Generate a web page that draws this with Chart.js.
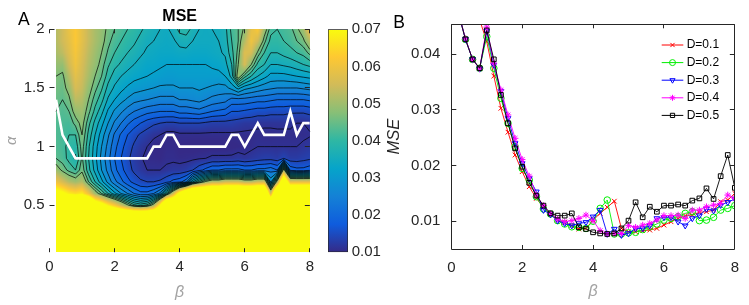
<!DOCTYPE html>
<html>
<head>
<meta charset="utf-8">
<script src="https://cdn.jsdelivr.net/npm/chart.js@4.4.1/dist/chart.umd.min.js"></script>
<style>
  html, body { margin:0; padding:0; background:#fff; }
  #wrap { position:relative; width:749px; height:305px; overflow:hidden; background:#fff; }
  #wrap canvas { position:absolute; top:0; }
</style>
</head>
<body>
<div id="wrap">
  <canvas id="cA" width="320" height="305" style="left:0"></canvas>
  <canvas id="cB" width="369" height="305" style="left:380px"></canvas>
  <canvas id="cCB" width="70" height="305" style="left:320px"></canvas>
</div>
<script>
// ---------------- DATA ----------------
// Panel A: MSE map over (beta, alpha). Values in units of 1e-3.
const betaGrid = [0.2,0.4,0.6,0.8,1.0,1.2,1.4,1.6,1.8,2.0,2.2,2.4,2.6,2.8,3.0,3.2,3.4,3.6,3.8,4.0,
                  4.2,4.4,4.6,4.8,5.0,5.2,5.4,5.6,5.8,6.0,6.2,6.4,6.6,6.8,7.0,7.2,7.4,7.6,7.8,8.0];
const alphaGrid = [2.0,1.9,1.8,1.7,1.6,1.5,1.4,1.3,1.2,1.1,1.0,0.9,0.8,0.7,0.6,0.5,0.4,0.3,0.2,0.1];
// one column per beta, values from alpha=2.0 down to alpha=0.1
const mseMapE3 = [
  [52,52,51,49,47, 46,45,44,43,43, 43,44,50,60,75, 100,100,100,100,100], // 0.2
  [55,55,53,49,46, 45,44,43,42.5,42, 42,42.5,46,56,72, 100,100,100,100,100], // 0.4
  [59,58,57,55,52, 49,46,44,42,41, 40,40,43,52,68, 100,100,100,100,100], // 0.6
  [62,62,61,60,58, 56,53,49,45,41, 39,37.5,41,50,66, 100,100,100,100,100], // 0.8
  [58,58,57,56,55, 54,52,50,48.5,47, 45.5,44.5,46,52,68, 100,100,100,100,100], // 1.0
  [54,54,53,52,51, 49,47,45,42,40, 38.5,38,39,44,60, 100,100,100,100,100], // 1.2
  [51,51,50,49,47, 45,42.5,40,37,35, 33.5,33,34,38,50, 82,100,100,100,100], // 1.4
  [49,48.5,47,45.5,44, 41.5,39,36,33,30.5, 29,28,29,33,44, 76,100,100,100,100], // 1.6
  [46,45,43.5,41.5,39.5, 37,34.5,31.5,29,26.5, 25,24,25,28,38, 68,100,100,100,100], // 1.8
  [44,42.5,41,39,36.5, 34.5,32,28.5,25.5,22.5, 21,20,21,24,33, 62,100,100,100,100], // 2.0
  [42.5,41,39.5,37.5,35, 33,30,26.5,23,19.5, 18,17,18,21,29, 55,100,100,100,100], // 2.2
  [41,39.5,38,36,34, 31.5,28.5,24.5,20.5,17, 15.5,14.7,15.5,18,26, 48,100,100,100,100], // 2.4
  [40,38.5,37,35,33, 30.5,27,23,18.5,15, 13.5,12.5,13.3,16,23, 42,100,100,100,100], // 2.6
  [38.5,37,35.5,34,32.5, 30,26.5,22,17,13.5, 12,11.3,12,14.5,21, 40,100,100,100,100], // 2.8
  [37,35.5,34.5,33,32, 29.5,26,21,15.5,12.5, 11,10.2,11,14,21, 42,100,100,100,100], // 3.0
  [36,35,34,33,31.5, 29,25.5,20.5,14.5,11.5, 10,10.2,11,14,23, 50,100,100,100,100], // 3.2
  [35,34.5,33.5,32.5,31, 28.5,25,20,14,11, 9.7,10,11,14.5,27, 70,100,100,100,100], // 3.4
  [34.5,34,33.5,32,30.5, 28.5,25,20,13.5,10, 10.2,10.5,11.5,16,40, 100,100,100,100,100], // 3.6
  [36,34.5,33.5,32,30.5, 28.5,25,20,13.5,10, 10.2,10.5,12,18,55, 100,100,100,100,100], // 3.8
  [39,36,34,32,31, 29,26,21,14,10.5, 9.8,10.2,12,19,75, 100,100,100,100,100], // 4.0
  [39.5,36.5,34,32,31, 29,26,21,14,10.5, 9.8,10.3,12.5,22,90, 100,100,100,100,100], // 4.2
  [37,35,33.5,32,31, 29,26.5,21.5,14,10.5, 9.5,10.5,14,35,100, 100,100,100,100,100], // 4.4
  [35,34.5,33.5,32,31, 29.5,27,22,14,10.5, 9.5,10.8,16,42,100, 100,100,100,100,100], // 4.6
  [34.5,34.5,33.5,32,31, 29,26,21,13.5,10.5, 9.5,11,18,48,100, 100,100,100,100,100], // 4.8
  [35,34.5,34,32.5,31, 28.5,25,20,13,10.5, 9.5,11.5,20,52,100, 100,100,100,100,100], // 5.0
  [35.5,35,34.5,33,31, 28,24.5,19.5,13,10.5, 9.5,11.5,20,52,100, 100,100,100,100,100], // 5.2
  [37,36.5,35.5,34,32, 28,24,19,13,10.5, 9.5,11.5,21,55,100, 100,100,100,100,100], // 5.4
  [42,41,40,38,36, 30,22,17,13,10.5, 9.7,11.5,21,55,100, 100,100,100,100,100], // 5.6
  [44,44,45,47,50, 33,22,17,12.5,10.5, 10,12,21,55,100, 100,100,100,100,100], // 5.8
  [48,52,57,56,42, 30,22,16.5,12,10.5, 10,11.5,20,52,100, 100,100,100,100,100], // 6.0
  [58,60,56,47,38, 29,21.5,16,12,10.3, 10.5,12,20,52,100, 100,100,100,100,100], // 6.2
  [62,55,46,40,35, 28,21,15.5,11.5,10.5, 11,12.5,21,55,100, 100,100,100,100,100], // 6.4
  [50,45,41,38,33, 27,21,15.5,11.5,10.3, 11,13,21,55,100, 100,100,100,100,100], // 6.6
  [42,40,38,35,31, 26.5,20.5,15,11.5,10.3, 11,13,22,28,55, 100,100,100,100,100], // 6.8
  [41,40,38,35,31, 26,20,15,11.5,10.5, 11,12.5,20,50,100, 100,100,100,100,100], // 7.0
  [42,41,39,35.5,31, 26,20,15,11.5,10.5, 11,14,50,90,100, 100,100,100,100,100], // 7.2
  [43,42,40,36,31.5, 26,20,14.5,11.5,10.5, 11,12.5,19,58,100, 100,100,100,100,100], // 7.4
  [46,44,41,37,32, 26,20,14.5,11,10.5, 11,12.5,18,58,100, 100,100,100,100,100], // 7.6
  [50,46,42,38,32.5, 26.5,20,14.5,11,10.5, 11.5,13,18,58,100, 100,100,100,100,100], // 7.8
  [60,52,45,39,33, 27,20.5,15,11.5,10.8, 12,13.5,19,58,100, 100,100,100,100,100]  // 8.0
];
// optimal alpha (white line) for each beta
const alphaOpt = [1.4,1.1,1.0,0.9,0.9,0.9,0.9,0.9,0.9,0.9,0.9,0.9,0.9,0.9,0.9,1.0,1.0,1.1,1.1,1.0,
                  1.0,1.0,1.0,1.0,1.0,1.0,1.0,1.1,1.1,1.0,1.1,1.2,1.1,1.1,1.1,1.1,1.3,1.1,1.2,1.2];
const contourLevelsE3 = [11,14,17,20,23,26,29,32,35,38,41,44,47];
const colorbarTicks = [0.01,0.02,0.03,0.04,0.05,0.06,0.07];
const xTicksA = [0,2,4,6,8];
const yTicksA = [0.5,1,1.5,2];

// Panel B: MSE vs beta for several D
const betaB = betaGrid;
const mseD01 = [0.060,0.056,0.052,0.0462,0.0423,0.0361,0.0303,0.0260,0.0219,0.0189,
                0.0162,0.0141,0.0125,0.0112,0.0102,0.0098,0.0092,0.0086,0.0087,0.0102,
                0.0114,0.0125,0.0136,0.0087,0.0081,0.0081,0.0083,0.0084,0.0087,0.0093,
                0.0099,0.0105,0.0110,0.0111,0.0116,0.0117,0.0120,0.0135,0.0138,0.0150];
const mseD02 = [0.0475,0.0427,0.0391,0.0375,0.0432,0.0375,0.0321,0.0276,0.0234,0.0195,
                0.0174,0.0144,0.0122,0.0113,0.0101,0.0095,0.0090,0.0089,0.0087,0.0100,
                0.0123,0.0138,0.0077,0.0077,0.0079,0.0080,0.0085,0.0090,0.0095,0.0102,
                0.0105,0.0108,0.0114,0.0117,0.0101,0.0102,0.0107,0.0120,0.0123,0.0128];
const mseD03 = [0.0475,0.0427,0.0391,0.0374,0.0442,0.0381,0.0334,0.0285,0.0240,0.0204,
                0.0177,0.0153,0.0120,0.0112,0.0101,0.0096,0.0092,0.0096,0.0098,0.0108,
                0.0120,0.0077,0.0086,0.0075,0.0078,0.0087,0.0087,0.0092,0.0105,0.0107,
                0.0107,0.0099,0.0092,0.0105,0.0110,0.0122,0.0119,0.0129,0.0134,0.0140];
const mseD04 = [0.0475,0.0428,0.0391,0.0374,0.0449,0.0384,0.0336,0.0291,0.0249,0.0211,
                0.0181,0.0147,0.0128,0.0114,0.0104,0.0099,0.0101,0.0105,0.0111,0.0101,
                0.0083,0.0077,0.0078,0.0078,0.0092,0.0089,0.0093,0.0096,0.0102,0.0110,
                0.0110,0.0111,0.0105,0.0120,0.0120,0.0126,0.0129,0.0132,0.0147,0.0141];
const mseD05 = [0.0475,0.0427,0.0391,0.0375,0.0443,0.0391,0.0327,0.0276,0.0231,0.0198,
                0.0169,0.0146,0.0128,0.0114,0.0110,0.0110,0.0114,0.0089,0.0086,0.0080,
                0.0078,0.0077,0.0078,0.0087,0.0101,0.0134,0.0107,0.0126,0.0117,0.0128,
                0.0128,0.0130,0.0128,0.0137,0.0141,0.0159,0.0140,0.0181,0.0219,0.0160];
const seriesLabels = ['D=0.1','D=0.2','D=0.3','D=0.4','D=0.5'];
const xTicksB = [0,2,4,6,8];
const yTicksB = [0.01,0.02,0.03,0.04];

// ---------------- STYLE ----------------
const FONT = "'Liberation Sans', Arial, Helvetica, sans-serif";
const AXC = '#262626';
const GREYLBL = '#a3a3a3';
const PARULA = ['#352a87','#0f5cdd','#1481d6','#06a4ca','#2eb7a4','#87bf77','#d1bb59','#fec832','#f9fb0e'];
const PARULA_RGB = PARULA.map(h => [parseInt(h.slice(1,3),16), parseInt(h.slice(3,5),16), parseInt(h.slice(5,7),16)]);
const CMIN = colorbarTicks[0], CMAX = colorbarTicks[colorbarTicks.length-1];

function parula(t) {
  t = Math.max(0, Math.min(1, t));
  const n = PARULA_RGB.length - 1;
  const f = t * n, k = Math.min(Math.floor(f), n - 1), u = f - k;
  const a = PARULA_RGB[k], b = PARULA_RGB[k+1];
  return [a[0]+(b[0]-a[0])*u, a[1]+(b[1]-a[1])*u, a[2]+(b[2]-a[2])*u];
}

function sampleMSE(b, a) {
  const db = betaGrid[1]-betaGrid[0], da = alphaGrid[0]-alphaGrid[1];
  const fi = (b - betaGrid[0]) / db, fj = (alphaGrid[0] - a) / da;
  const i = Math.min(Math.max(Math.floor(fi), 0), betaGrid.length - 2);
  const j = Math.min(Math.max(Math.floor(fj), 0), alphaGrid.length - 2);
  const u = Math.min(Math.max(fi - i, 0), 1), v = Math.min(Math.max(fj - j, 0), 1);
  const m = mseMapE3;
  return (m[i][j]*(1-u) + m[i+1][j]*u)*(1-v) + (m[i][j+1]*(1-u) + m[i+1][j+1]*u)*v;
}

const heatmapPlugin = {
  id: 'heatmap',
  beforeDatasetsDraw(chart) {
    const xs = chart.scales.x, ys = chart.scales.y, ctx = chart.ctx;
    const bMin = betaGrid[0], bMax = betaGrid[betaGrid.length-1];
    const aMax = alphaGrid[0], aMin = alphaGrid[alphaGrid.length-1];
    const L = Math.floor(xs.getPixelForValue(bMin)), R = Math.ceil(xs.getPixelForValue(bMax));
    const T = Math.floor(ys.getPixelForValue(aMax)), B = Math.ceil(ys.getPixelForValue(aMin));
    const w = R - L, h = B - T;
    const off = document.createElement('canvas'); off.width = w; off.height = h;
    const octx = off.getContext('2d');
    const img = octx.createImageData(w, h);
    for (let py = 0; py < h; py++) {
      const a = ys.getValueForPixel(T + py + 0.5);
      for (let px = 0; px < w; px++) {
        const b = xs.getValueForPixel(L + px + 0.5);
        const idx = (py*w + px) * 4;
        if (b < bMin - 1e-9 || b > bMax + 1e-9 || a > aMax + 1e-9 || a < aMin - 1e-9) { img.data[idx+3] = 0; continue; }
        const v = sampleMSE(b, a) * 1e-3;
        const c = parula((v - CMIN) / (CMAX - CMIN));
        img.data[idx] = c[0]; img.data[idx+1] = c[1]; img.data[idx+2] = c[2]; img.data[idx+3] = 255;
      }
    }
    octx.putImageData(img, 0, 0);
    ctx.drawImage(off, L, T);
    drawContours(chart);
  }
};

function drawContours(chart) {
  const ctx = chart.ctx, xs = chart.scales.x, ys = chart.scales.y, m = mseMapE3;
  const P = (b, a) => [xs.getPixelForValue(b), ys.getPixelForValue(a)];
  ctx.save();
  ctx.strokeStyle = '#000'; ctx.lineWidth = 0.7; ctx.lineJoin = 'round';
  ctx.beginPath();
  const seg = (p, q) => { ctx.moveTo(p[0], p[1]); ctx.lineTo(q[0], q[1]); };
  for (const L of contourLevelsE3) {
    for (let i = 0; i < betaGrid.length - 1; i++) {
      for (let j = 0; j < alphaGrid.length - 1; j++) {
        const b0 = betaGrid[i], b1 = betaGrid[i+1], a0 = alphaGrid[j], a1 = alphaGrid[j+1];
        const tl = m[i][j], tr = m[i+1][j], br = m[i+1][j+1], bl = m[i][j+1];
        const id = (tl >= L ? 8 : 0) | (tr >= L ? 4 : 0) | (br >= L ? 2 : 0) | (bl >= L ? 1 : 0);
        if (id === 0 || id === 15) continue;
        const top = () => P(b0 + (b1-b0)*(L-tl)/(tr-tl), a0);
        const right = () => P(b1, a0 + (a1-a0)*(L-tr)/(br-tr));
        const bottom = () => P(b0 + (b1-b0)*(L-bl)/(br-bl), a1);
        const left = () => P(b0, a0 + (a1-a0)*(L-tl)/(bl-tl));
        const c = (tl+tr+br+bl)/4;
        switch (id) {
          case 1: case 14: seg(left(), bottom()); break;
          case 2: case 13: seg(bottom(), right()); break;
          case 3: case 12: seg(left(), right()); break;
          case 4: case 11: seg(top(), right()); break;
          case 6: case 9: seg(top(), bottom()); break;
          case 7: case 8: seg(left(), top()); break;
          case 5: if (c >= L) { seg(left(), top()); seg(bottom(), right()); } else { seg(top(), right()); seg(left(), bottom()); } break;
          case 10: if (c >= L) { seg(top(), right()); seg(left(), bottom()); } else { seg(left(), top()); seg(bottom(), right()); } break;
        }
      }
    }
  }
  ctx.stroke();
  ctx.restore();
}

function inwardTicks(frame) {
  return {
    id: 'inwardTicks',
    afterDatasetsDraw(chart) {
      const {ctx, chartArea: a, scales: {x, y}} = chart;
      ctx.save();
      ctx.strokeStyle = AXC; ctx.lineWidth = 1;
      ctx.beginPath();
      if (frame) {
        const l = Math.floor(a.left) + 0.5, r = Math.floor(a.right) + 0.5, t = Math.floor(a.top) + 0.5, b = Math.floor(a.bottom) + 0.5;
        ctx.rect(l, t, r - l, b - t);
      }
      x.ticks.forEach(tk => {
        const px = Math.floor(x.getPixelForValue(tk.value)) + 0.5;
        ctx.moveTo(px, a.top); ctx.lineTo(px, a.top + 4);
        ctx.moveTo(px, a.bottom); ctx.lineTo(px, a.bottom - 4);
      });
      y.ticks.forEach(tk => {
        const py = Math.floor(y.getPixelForValue(tk.value)) + 0.5;
        ctx.moveTo(a.left, py); ctx.lineTo(a.left + 5, py);
        ctx.moveTo(a.right, py); ctx.lineTo(a.right - 5, py);
      });
      ctx.stroke();
      ctx.restore();
    }
  };
}

function panelLetter(letter, x, y) {
  return {
    id: 'panelLetter',
    afterDraw(chart) {
      const ctx = chart.ctx;
      ctx.save();
      ctx.fillStyle = '#000';
      ctx.font = '17.5px ' + FONT;
      ctx.textBaseline = 'alphabetic'; ctx.textAlign = 'left';
      ctx.fillText(letter, x, y);
      ctx.restore();
    }
  };
}

const tickFont = { family: FONT, size: 15 };

// ---------------- PANEL A ----------------
new Chart(document.getElementById('cA'), {
  type: 'line',
  data: {
    datasets: [{
      label: 'optimal alpha',
      data: betaGrid.map((b, i) => ({ x: b, y: alphaOpt[i] })),
      borderColor: '#ffffff', borderWidth: 2.6, pointRadius: 0, tension: 0, fill: false
    }]
  },
  options: {
    responsive: false, animation: false, events: [],
    layout: { padding: { left: 0, right: 8, top: 0, bottom: 0 } },
    plugins: {
      legend: { display: false }, tooltip: { enabled: false },
      title: { display: true, text: 'MSE', fullSize: false, color: '#000',
               font: { family: FONT, size: 16, weight: 'bold' }, padding: { top: 7, bottom: 3.1 } }
    },
    scales: {
      x: {
        type: 'linear', min: 0, max: 8,
        afterBuildTicks: s => { s.ticks = xTicksA.map(v => ({ value: v })); },
        grid: { display: false, drawTicks: false }, border: { display: false },
        ticks: { font: tickFont, color: AXC, padding: 6, maxRotation: 0, callback: v => String(v) },
        title: { display: true, text: 'β', color: GREYLBL, font: { family: FONT, size: 16, style: 'italic' }, padding: { top: 0, bottom: 2.4 } },
        afterFit: s => { s.height = 52.8; }
      },
      y: {
        type: 'linear', min: 0.1, max: 2,
        afterBuildTicks: s => { s.ticks = yTicksA.map(v => ({ value: v })); },
        grid: { display: false, drawTicks: false }, border: { display: false },
        ticks: { font: tickFont, color: AXC, padding: 5, callback: v => String(v) },
        title: { display: true, text: 'α', color: GREYLBL, font: { family: FONT, size: 15, style: 'italic' }, padding: { top: 2.7, bottom: 0 } },
        afterFit: s => { s.width = 49.5; }
      }
    }
  },
  plugins: [heatmapPlugin, inwardTicks(false), panelLetter('A', 18, 25)]
});

// ---------------- COLORBAR ----------------
new Chart(document.getElementById('cCB'), {
  type: 'bar',
  data: {
    labels: ['MSE'],
    datasets: [{
      data: [[CMIN, CMAX]],
      backgroundColor: (c) => {
        const ch = c.chart;
        if (!ch.chartArea || !ch.scales.y) return 'rgba(0,0,0,0)';
        const ys = ch.scales.y;
        const g = ch.ctx.createLinearGradient(0, ys.getPixelForValue(CMIN), 0, ys.getPixelForValue(CMAX));
        PARULA.forEach((col, k) => g.addColorStop(k / (PARULA.length - 1), col));
        return g;
      },
      borderColor: AXC, borderWidth: 1, borderSkipped: false,
      barPercentage: 1, categoryPercentage: 1
    }]
  },
  options: {
    responsive: false, animation: false, events: [],
    layout: { padding: { left: 8, right: 0, top: 29.3, bottom: 52.8 } },
    plugins: { legend: { display: false }, tooltip: { enabled: false } },
    scales: {
      x: { display: false },
      y: {
        position: 'right', min: CMIN, max: CMAX,
        afterBuildTicks: s => { s.ticks = colorbarTicks.map(v => ({ value: v })); },
        grid: { display: false, drawTicks: false }, border: { display: false },
        ticks: { font: tickFont, color: AXC, padding: 3.7, callback: v => Number(v).toFixed(2) },
        afterFit: s => { s.width = 42; }
      }
    }
  }
});

// ---------------- PANEL B ----------------
const styleB = [
  { color: '#ff0000', pointStyle: 'crossRot', rotation: 0, order: 5 },
  { color: '#00ee00', pointStyle: 'circle', rotation: 0, order: 4 },
  { color: '#0000ff', pointStyle: 'triangle', rotation: 180, order: 3 },
  { color: '#ff00ff', pointStyle: 'star', rotation: 0, order: 2 },
  { color: '#000000', pointStyle: 'rect', rotation: 0, order: 1 }
];
const valuesB = [mseD01, mseD02, mseD03, mseD04, mseD05];

const legendB = {
  id: 'legendB',
  afterDraw(chart) {
    const ctx = chart.ctx;
    ctx.save();
    chart.data.datasets.forEach((ds, i) => {
      const y = 45 + 17.6 * i;
      ctx.strokeStyle = ds.borderColor; ctx.lineWidth = 1;
      ctx.beginPath(); ctx.moveTo(281.7, y); ctx.lineTo(303.3, y); ctx.stroke();
      ctx.fillStyle = 'rgba(0,0,0,0)';
      ctx.strokeStyle = ds.pointBorderColor;
      ctx.lineWidth = 1;
      Chart.helpers.drawPoint(ctx, { pointStyle: ds.pointStyle, radius: 3, borderWidth: 1, rotation: ds.pointRotation || 0 }, 292.5, y);
      ctx.fillStyle = '#000';
      ctx.font = '12px ' + FONT;
      ctx.textBaseline = 'middle'; ctx.textAlign = 'left';
      ctx.fillText(ds.label, 306.7, y);
    });
    ctx.restore();
  }
};

new Chart(document.getElementById('cB'), {
  type: 'line',
  data: {
    datasets: valuesB.map((vals, k) => ({
      label: seriesLabels[k],
      data: betaB.map((b, i) => ({ x: b, y: vals[i] })),
      borderColor: styleB[k].color, borderWidth: 0.9,
      pointStyle: styleB[k].pointStyle, pointRotation: styleB[k].rotation,
      pointRadius: 3.3, pointBorderWidth: 1,
      pointBorderColor: styleB[k].color, pointBackgroundColor: 'rgba(0,0,0,0)',
      tension: 0, fill: false, order: styleB[k].order
    }))
  },
  options: {
    responsive: false, animation: false, events: [],
    layout: { padding: { left: 0, right: 9.7, top: 24.3, bottom: 0 } },
    plugins: { legend: { display: false }, tooltip: { enabled: false } },
    scales: {
      x: {
        type: 'linear', min: 0, max: 8,
        afterBuildTicks: s => { s.ticks = xTicksB.map(v => ({ value: v })); },
        grid: { display: false, drawTicks: false }, border: { display: false },
        ticks: { font: tickFont, color: AXC, padding: 10, maxRotation: 0, callback: v => String(v) },
        title: { display: true, text: 'β', color: GREYLBL, font: { family: FONT, size: 16, style: 'italic' }, padding: { top: 0, bottom: 3.4 } },
        afterFit: s => { s.height = 56; }
      },
      y: {
        type: 'linear', min: 0.005, max: 0.0454,
        afterBuildTicks: s => { s.ticks = yTicksB.map(v => ({ value: v })); },
        grid: { display: false, drawTicks: false }, border: { display: false },
        ticks: { font: tickFont, color: AXC, padding: 11, callback: v => Number(v).toFixed(2) },
        title: { display: true, text: 'MSE', color: AXC, font: { family: FONT, size: 16.5, style: 'italic' }, padding: { top: 5, bottom: 0 } },
        afterFit: s => { s.width = 71.3; }
      }
    }
  },
  plugins: [inwardTicks(true), legendB, panelLetter('B', 13.3, 28.3)]
});
</script>
</body>
</html>
